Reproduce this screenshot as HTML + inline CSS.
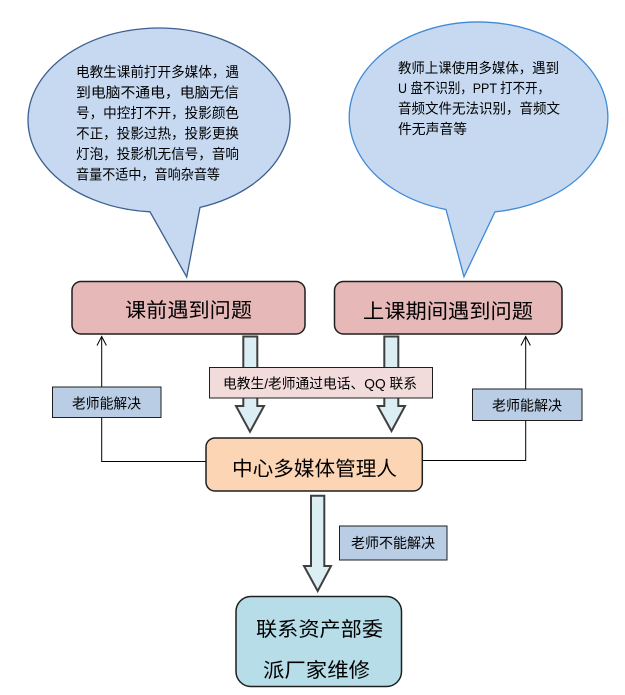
<!DOCTYPE html>
<html>
<head>
<meta charset="utf-8">
<style>
html,body{margin:0;padding:0;background:#fff;}
svg{display:block;}
text{font-family:"Liberation Sans","Noto Sans CJK SC",sans-serif;fill:#000;}
</style>
</head>
<body>
<svg width="625" height="695" viewBox="0 0 625 695" xmlns="http://www.w3.org/2000/svg">
  <!-- Left speech bubble -->
  <path d="M150,211.8 A131 92 0 1 1 200,207.4 L186.7,277 Z" fill="#c6d9f0" stroke="#3d5f8f" stroke-width="1.3"/>
  <g font-size="14">
    <text x="76" y="77" textLength="163" lengthAdjust="spacingAndGlyphs">电教生课前打开多媒体，遇</text>
    <text x="76" y="97.5" textLength="163" lengthAdjust="spacingAndGlyphs">到电脑不通电，电脑无信</text>
    <text x="76" y="118" textLength="163" lengthAdjust="spacingAndGlyphs">号，中控打不开，投影颜色</text>
    <text x="76" y="138.5" textLength="163" lengthAdjust="spacingAndGlyphs">不正，投影过热，投影更换</text>
    <text x="76" y="159" textLength="163" lengthAdjust="spacingAndGlyphs">灯泡，投影机无信号，音响</text>
    <text x="76" y="179.5" textLength="144" lengthAdjust="spacingAndGlyphs">音量不适中，音响杂音等</text>
  </g>

  <!-- Right speech bubble -->
  <path d="M446,209.5 A129.3 95.3 0 1 1 495,211.8 L464,276.7 Z" fill="#c6d9f0" stroke="#3f8ad6" stroke-width="1.3"/>
  <g font-size="14">
    <text x="398" y="73" textLength="161" lengthAdjust="spacingAndGlyphs">教师上课使用多媒体，遇到</text>
    <text x="398" y="93.2" textLength="152" lengthAdjust="spacingAndGlyphs">U 盘不识别，PPT 打不开，</text>
    <text x="398" y="113.4" textLength="162" lengthAdjust="spacingAndGlyphs">音频文件无法识别，音频文</text>
    <text x="398" y="133.8" textLength="69" lengthAdjust="spacingAndGlyphs">件无声音等</text>
  </g>

  <!-- Top boxes -->
  <rect x="72" y="281.5" width="233" height="52.5" rx="9" ry="9" fill="#e6b9b8" stroke="#1f1f1f" stroke-width="1.5"/>
  <text x="125" y="317" font-size="20" textLength="127" lengthAdjust="spacingAndGlyphs">课前遇到问题</text>
  <rect x="334.5" y="281.5" width="227.5" height="52.5" rx="9" ry="9" fill="#e6b9b8" stroke="#1f1f1f" stroke-width="1.5"/>
  <text x="363" y="318" font-size="20" textLength="170" lengthAdjust="spacingAndGlyphs">上课期间遇到问题</text>

  <!-- Connector lines (teacher can solve) -->
  <polyline points="206,461.5 101.7,461.5 101.7,336.5" fill="none" stroke="#000" stroke-width="1"/>
  <polyline points="97,345.5 101.7,336.5 106.4,345.5" fill="none" stroke="#000" stroke-width="1"/>
  <polyline points="422,460.5 525.7,460.5 525.7,336.5" fill="none" stroke="#000" stroke-width="1"/>
  <polyline points="521,345.5 525.7,336.5 530.4,345.5" fill="none" stroke="#000" stroke-width="1"/>

  <rect x="52.5" y="387" width="108.5" height="30.5" fill="#b9cde5" stroke="#1f1f1f" stroke-width="1"/>
  <text x="72" y="408.3" font-size="14" textLength="69" lengthAdjust="spacingAndGlyphs">老师能解决</text>
  <rect x="472.5" y="389" width="109.5" height="31.5" fill="#b9cde5" stroke="#1f1f1f" stroke-width="1"/>
  <text x="492" y="410.3" font-size="14" textLength="70" lengthAdjust="spacingAndGlyphs">老师能解决</text>

  <!-- Block arrows down to center -->
  <path d="M243.3,336.5 L257.3,336.5 L257.3,406 L264,406 L250,431.7 L236,406 L243.3,406 Z" fill="#dbeef3" stroke="#3f3f3f" stroke-width="2" stroke-linejoin="miter"/>
  <path d="M384.3,336.5 L398.3,336.5 L398.3,406 L405,406 L391.5,431 L377.7,406 L384.3,406 Z" fill="#dbeef3" stroke="#3f3f3f" stroke-width="2" stroke-linejoin="miter"/>

  <rect x="209.5" y="367.5" width="223" height="30.5" fill="#f2dcdb" stroke="#1f1f1f" stroke-width="1"/>
  <text x="223" y="388.6" font-size="14" textLength="194" lengthAdjust="spacingAndGlyphs">电教生/老师通过电话、QQ 联系</text>

  <!-- Center box -->
  <rect x="206" y="438" width="216.3" height="53" rx="9" ry="9" fill="#fcd5b4" stroke="#1f1f1f" stroke-width="1.5"/>
  <text x="232" y="475.6" font-size="20" textLength="165" lengthAdjust="spacingAndGlyphs">中心多媒体管理人</text>

  <!-- Down arrow -->
  <path d="M311,495.7 L324.3,495.7 L324.3,566 L331,566 L317.7,591 L304,566 L311,566 Z" fill="#dbeef3" stroke="#3f3f3f" stroke-width="2" stroke-linejoin="miter"/>

  <rect x="339.5" y="526" width="107.5" height="34" fill="#b9cde5" stroke="#1f1f1f" stroke-width="1"/>
  <text x="351" y="548" font-size="14" textLength="84" lengthAdjust="spacingAndGlyphs">老师不能解决</text>

  <!-- Bottom box -->
  <rect x="236" y="596.5" width="165.5" height="90" rx="15" ry="15" fill="#b7dde8" stroke="#1f1f1f" stroke-width="1.5"/>
  <text x="256" y="636" font-size="20" textLength="127" lengthAdjust="spacingAndGlyphs">联系资产部委</text>
  <text x="263" y="677" font-size="20" textLength="107" lengthAdjust="spacingAndGlyphs">派厂家维修</text>
</svg>
</body>
</html>
